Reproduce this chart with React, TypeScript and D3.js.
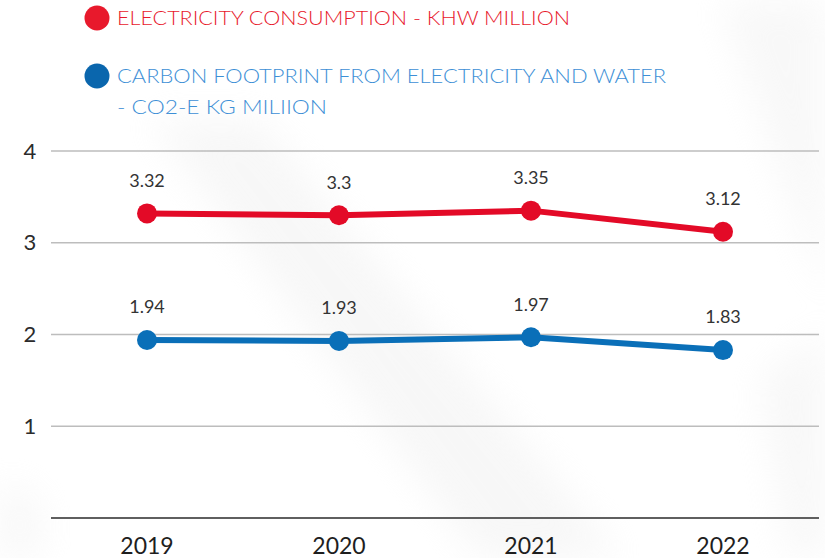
import React from "react";
import * as d3 from "d3";

const years = ["2019", "2020", "2021", "2022"];
const electricity = [3.32, 3.3, 3.35, 3.12];
const carbon = [1.94, 1.93, 1.97, 1.83];
const yTicks = [1, 2, 3, 4];
const legendElectricity = ["ELECTRICITY CONSUMPTION - KHW MILLION"];
const legendCarbon = ["CARBON FOOTPRINT FROM ELECTRICITY AND WATER", "- CO2-E KG MILIION"];

const W = 825;
const H = 558;
const RED = "#e30a27";
const BLUE = "#0a6fb8";
const FONT = "Lato, 'Open Sans', sans-serif";

export default function App() {
  const x = d3.scaleBand<string>().domain(years).range([51, 819]);
  const y = d3.scaleLinear().domain([0, 4]).range([518, 151]);
  const cx = (d: string) => (x(d) ?? 0) + x.bandwidth() / 2;
  const line = d3
    .line<number>()
    .x((_, i) => cx(years[i]))
    .y((v) => y(v));

  const series = [
    { values: electricity, color: RED },
    { values: carbon, color: BLUE },
  ];

  return (
    <svg
      width={W}
      height={H}
      style={{ position: "absolute", left: 0, top: 0, background: "#fff" }}
    >
      <defs>
        <filter id="blur" x="-50%" y="-50%" width="200%" height="200%">
          <feGaussianBlur stdDeviation="18" />
        </filter>
      </defs>
      <rect width={W} height={H} fill="#fff" />
      <g filter="url(#blur)" opacity="0.4">
        <polygon points="150,120 260,120 620,558 480,558" fill="#ececec" />
        <polygon points="720,0 825,0 825,300" fill="#eeeeee" />
        <polygon points="760,380 825,330 825,558 790,558" fill="#ededed" />
        <polygon points="0,480 40,500 40,558 0,558" fill="#ededed" />
      </g>

      {/* gridlines */}
      {yTicks.map((t) => (
        <line
          key={t}
          x1={51}
          x2={819}
          y1={y(t)}
          y2={y(t)}
          stroke="#bdbdbd"
          strokeWidth={1.5}
        />
      ))}
      <line x1={51} x2={819} y1={y(0)} y2={y(0)} stroke="#5f5f5f" strokeWidth={2} />

      {/* y tick labels */}
      {yTicks.map((t) => (
        <text
          key={t}
          x={30}
          y={y(t)}
          dy="0.35em"
          textAnchor="middle"
          fontFamily={FONT}
          fontSize={22}
          fill="#2b2b2b"
        >
          {t}
        </text>
      ))}

      {/* x labels */}
      {years.map((yr) => (
        <text
          key={yr}
          x={cx(yr)}
          y={546}
          dy="0.35em"
          textAnchor="middle"
          fontFamily={FONT}
          fontSize={23}
          fill="#1e1e1e"
        >
          {yr}
        </text>
      ))}

      {/* series */}
      {series.map((s, si) => (
        <g key={si}>
          <path
            d={line(s.values) ?? ""}
            fill="none"
            stroke={s.color}
            strokeWidth={6}
            strokeLinejoin="round"
          />
          {s.values.map((v, i) => (
            <circle key={i} cx={cx(years[i])} cy={y(v)} r={10} fill={s.color} />
          ))}
          {s.values.map((v, i) => (
            <text
              key={"l" + i}
              x={cx(years[i])}
              y={y(v) - 33}
              dy="0.35em"
              textAnchor="middle"
              fontFamily={FONT}
              fontSize={18}
              fill="#333"
            >
              {String(v)}
            </text>
          ))}
        </g>
      ))}

      {/* legend */}
      <circle cx={97} cy={18} r={12.5} fill="#e8192c" />
      <text
        x={117}
        y={18}
        dy="0.35em"
        fontFamily={FONT}
        fontWeight={300}
        fontSize={20}
        fill="#e8192c"
        textLength={453}
        lengthAdjust="spacingAndGlyphs"
      >
        {legendElectricity[0]}
      </text>
      <circle cx={97} cy={76} r={12.5} fill="#0a66ad" />
      <text
        x={117}
        y={76}
        dy="0.35em"
        fontFamily={FONT}
        fontWeight={300}
        fontSize={20}
        fill="#3d8fd6"
        textLength={549}
        lengthAdjust="spacingAndGlyphs"
      >
        {legendCarbon[0]}
      </text>
      <text
        x={117}
        y={107}
        dy="0.35em"
        fontFamily={FONT}
        fontWeight={300}
        fontSize={20}
        fill="#3d8fd6"
        textLength={210}
        lengthAdjust="spacingAndGlyphs"
      >
        {legendCarbon[1]}
      </text>
    </svg>
  );
}
